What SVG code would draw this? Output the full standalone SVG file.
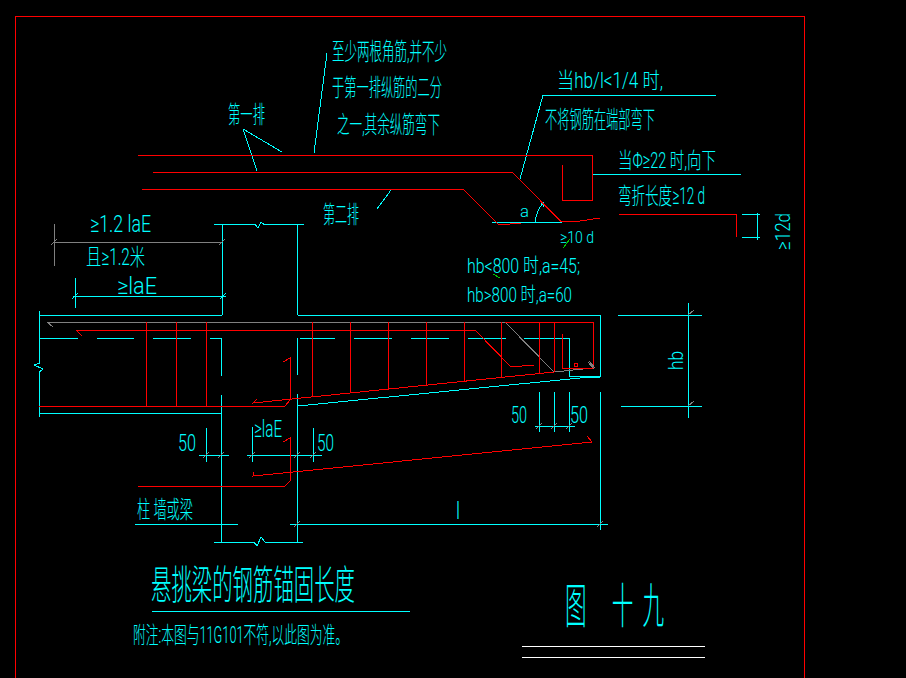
<svg xmlns="http://www.w3.org/2000/svg" width="906" height="678" viewBox="0 0 906 678">
<style>
path{shape-rendering:crispEdges}
.c{fill:none;stroke:#00ffff;stroke-width:1}
.r{fill:none;stroke:#ff0000;stroke-width:1}
.g{fill:none;stroke:#808080;stroke-width:1}
.w{fill:none;stroke:#ffffff;stroke-width:1}
.gn{fill:none;stroke:#00c800;stroke-width:1}
text{fill:#00ffff;font-family:"Roboto","Noto Sans CJK SC","DejaVu Sans",sans-serif;font-weight:300}
</style>
<rect width="906" height="678" fill="#000"/>
<g id="frame"><path d="M15.500 678V16.500H804.500V678" fill="none" stroke="#ff0000"/></g>
<g id="connectors">
<path class="c" d="M243 129L282 152M243 129L257 171M327 53L314 153M391 190L377 209M520 179L543 95H716M593 174H741"/>
<path class="c" d="M492 222H562M535 222C536 214 539 208 543 203M541 204L543 203L543 207"/>
<path class="c" d="M742 214H760M742 237H760M757 213V240"/>
<path class="c" d="M214 224.500H255L258 228L261 222L264 224.500H304M222 224V315M297.500 224V315"/>
<path class="c" d="M39.500 315H222M297.500 315H600.500V376H569V338H524M39.500 311V363L34 365L43 369L39.500 372V417M39.500 413H222"/>
<path class="c" d="M39.500 338H78M97 338H134M153 338H191M210 338H221.500V376M221.500 395V542M297.500 338V375M297.500 394V542M214 542H254L257 546L261 537L265 542H303"/>
<path class="c" d="M300 338H335M354 338H392M411 338H449M468 338H506M298 406L590 377H600M590 376H600"/>
<path class="g" d="M54 224V266M54 242H222M51 245L57 239M219 245L225 239"/>
<path class="c" d="M75 278V308M73 296H226M72 299L78 293M220 299L226 293"/>
<path class="c" d="M199 455H229M206 428V462M247 455H322M252 427V462M313 428V462"/>
<path class="g" d="M203 458L209 452M218 458L224 452M249 458L255 452M294 458L300 452M310 458L316 452"/>
<path class="c" d="M135 524H238M290 524H608M600 392V530"/>
<path class="g" d="M294 527L300 521M597 527L603 521"/>
<path class="c" d="M535 426H575M539 392V432M554 392V432M569 392V432"/>
<path class="g" d="M536 429L542 423M551 429L557 423M566 429L572 423"/>
<path class="c" d="M618 315H702M621 406H702M688 303V418"/>
<path class="g" d="M688 315L694 310M688 406L694 401"/>
<path class="w" d="M522 646H705M522 657H705"/>
<path class="c" d="M152 611H410"/>
<path class="gn" d="M563 248L570 239M493 274L500 278"/>
</g>
<g id="rebar">
<path class="r" d="M138 155H592V200H562V165"/>
<path class="r" d="M153 172H512L561.500 222L580 221L600 218"/>
<path class="r" d="M142 189H463L499 225L510 224L521 223"/>
<path class="r" d="M619 214H736V237"/>
<path class="g" d="M47 322H505L554 372L593 368M47 322L53 327"/>
<path class="r" d="M505 322H593V368H562V334M574 363h3v3h-3z"/>
<path class="g" d="M588 362L594 369M589 361L595 368"/>
<path class="r" d="M82 336L76 330H475L511 367L534 365"/>
<path class="r" d="M146 322V406M176 322V406M206 322V406M312 322V396M350 322V393M388 322V389M426 322V385M464 322V381M501 322V378M539 322V374M554 322V372"/>
<path class="r" d="M39 406H285L290 400V358L283 362"/>
<path class="r" d="M257 399L253 403L554 372"/>
<path class="r" d="M138 486H285L290 481V438L283 442"/>
<path class="r" d="M254 472L253 476L592 442L587 436"/>
</g>
<g id="labels">
<text x="332" y="60" font-size="24" textLength="115" lengthAdjust="spacingAndGlyphs">至少两根角筋,并不少</text>
<text x="332" y="96" font-size="24" textLength="110" lengthAdjust="spacingAndGlyphs">于第一排纵筋的二分</text>
<text x="337" y="133" font-size="24" textLength="103" lengthAdjust="spacingAndGlyphs">之一,其余纵筋弯下</text>
<text x="228" y="123" font-size="24" textLength="37" lengthAdjust="spacingAndGlyphs">第一排</text>
<text x="323" y="223" font-size="24" textLength="36" lengthAdjust="spacingAndGlyphs">第二排</text>
<text x="557" y="88" font-size="22" textLength="106" lengthAdjust="spacingAndGlyphs">当hb/l&lt;1/4 时,</text>
<text x="545" y="128" font-size="24" textLength="110" lengthAdjust="spacingAndGlyphs">不将钢筋在端部弯下</text>
<text x="618" y="168" font-size="22" textLength="98" lengthAdjust="spacingAndGlyphs">当Φ≥22 时,向下</text>
<text x="618" y="204" font-size="23" textLength="87" lengthAdjust="spacingAndGlyphs">弯折长度≥12 d</text>
<text x="560" y="243" font-size="16" textLength="34" lengthAdjust="spacingAndGlyphs">≥10 d</text>
<text x="520" y="217" font-size="16" textLength="9" lengthAdjust="spacingAndGlyphs">a</text>
<text x="467" y="273" font-size="20" textLength="113" lengthAdjust="spacingAndGlyphs">hb&lt;800 时,a=45;</text>
<text x="467" y="302" font-size="20" textLength="105" lengthAdjust="spacingAndGlyphs">hb&gt;800 时,a=60</text>
<text transform="translate(790 250) rotate(-90)" font-size="20" textLength="37" lengthAdjust="spacingAndGlyphs">≥12d</text>
<text x="90" y="232" font-size="23" textLength="61" lengthAdjust="spacingAndGlyphs">≥1.2 laE</text>
<text x="86" y="265" font-size="23" textLength="59" lengthAdjust="spacingAndGlyphs">且≥1.2米</text>
<text x="117" y="294" font-size="23" textLength="40" lengthAdjust="spacingAndGlyphs">≥laE</text>
<text x="178" y="451" font-size="23" textLength="18" lengthAdjust="spacingAndGlyphs">50</text>
<text x="254" y="437" font-size="23" textLength="28" lengthAdjust="spacingAndGlyphs">≥laE</text>
<text x="317" y="451" font-size="23" textLength="17" lengthAdjust="spacingAndGlyphs">50</text>
<text x="137" y="518" font-size="24" textLength="56" lengthAdjust="spacingAndGlyphs">柱 墙或梁</text>
<text x="511" y="423" font-size="23" textLength="16" lengthAdjust="spacingAndGlyphs">50</text>
<text x="570" y="423" font-size="23" textLength="18" lengthAdjust="spacingAndGlyphs">50</text>
<text transform="translate(683 370) rotate(-90)" font-size="20" textLength="19" lengthAdjust="spacingAndGlyphs">hb</text>
<text x="456" y="519" font-size="24" textLength="4" lengthAdjust="spacingAndGlyphs">l</text>
<text x="151" y="599" font-size="40" textLength="204" lengthAdjust="spacingAndGlyphs">悬挑梁的钢筋锚固长度</text>
<text x="133" y="643" font-size="23" textLength="215" lengthAdjust="spacingAndGlyphs">附注:本图与11G101不符,以此图为准。</text>
<text transform="translate(565 623) scale(.45 1)" font-size="48" x="0 104 172">图十九</text>
</g>
</svg>
